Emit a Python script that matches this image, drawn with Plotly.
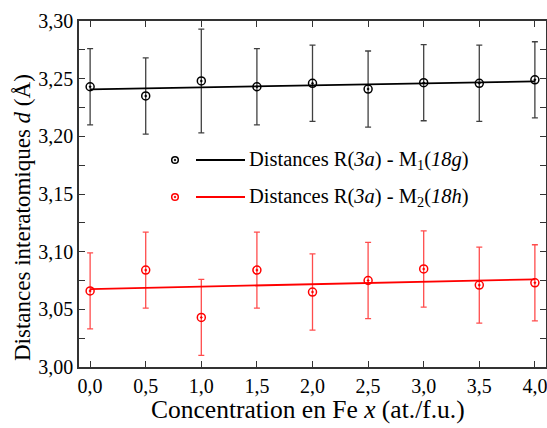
import numpy as np
import plotly.graph_objects as go

# Data
conc_x = [0.0, 0.5, 1.0, 1.5, 2.0, 2.5, 3.0, 3.5, 4.0]
d_m1 = [3.243, 3.235, 3.248, 3.243, 3.246, 3.241, 3.2465, 3.246, 3.249]
err_m1 = [0.033, 0.033, 0.045, 0.033, 0.033, 0.033, 0.033, 0.033, 0.033]
d_m2 = [3.066, 3.084, 3.043, 3.084, 3.065, 3.075, 3.085, 3.071, 3.073]
err_m2 = [0.033, 0.033, 0.033, 0.033, 0.033, 0.033, 0.033, 0.033, 0.033]
label_m1 = "Distances R(<i>3a</i>) - M<sub>1</sub>(<i>18g</i>)"
label_m2 = "Distances R(<i>3a</i>) - M<sub>2</sub>(<i>18h</i>)"
x_title = "Concentration en Fe <i>x</i> (at./f.u.)"
y_title = "Distances interatomiques <i>d</i> (Å)"
x_ticks = [0.0, 0.5, 1.0, 1.5, 2.0, 2.5, 3.0, 3.5, 4.0]
y_ticks = [3.00, 3.05, 3.10, 3.15, 3.20, 3.25, 3.30]

FONT = "Liberation Serif"
fig = go.Figure()

series = [
    (d_m1, err_m1, "black", "rgba(0,0,0,0.75)", label_m1),
    (d_m2, err_m2, "red", "rgba(255,0,0,0.7)", label_m2),
]
xa = np.array(conc_x)
for ys, es, col, ecol, name in series:
    slope, icpt = np.polyfit(xa, np.array(ys), 1)
    xf = np.array([xa.min(), xa.max()])
    fig.add_trace(go.Scatter(x=xf, y=slope * xf + icpt, mode="lines",
                             line=dict(color=col, width=1.8), showlegend=False,
                             hoverinfo="skip"))
    fig.add_trace(go.Scatter(
        x=conc_x, y=ys, mode="markers", name=name, showlegend=False,
        marker=dict(symbol="circle-open-dot", size=8, color=col,
                    line=dict(width=1.5, color=col)),
        error_y=dict(type="data", array=es, visible=True, color=ecol,
                     thickness=1.3, width=3)))

# Figure geometry (body margin removed by post_script)
W, H = 547, 428
ML, MR, MT, MB = 79, 1, 21, 61
x0, x1 = ML, W - MR
y0, y1 = H - MB, MT
OFF = 0
def px(x):
    return (x - OFF - x0) / (x1 - x0)
def py(y):
    return (y0 - (y - OFF)) / (y0 - y1)

# Legend drawn manually (Origin style: marker, gap, line, text)
for ypix, col, name in [(160, "black", label_m1), (197, "red", label_m2)]:
    fig.add_shape(type="circle", xref="paper", yref="paper",
                  xsizemode="pixel", ysizemode="pixel",
                  xanchor=px(175), yanchor=py(ypix),
                  x0=-3.3, x1=3.3, y0=-3.3, y1=3.3,
                  line=dict(color=col, width=1.5))
    fig.add_shape(type="circle", xref="paper", yref="paper",
                  xsizemode="pixel", ysizemode="pixel",
                  xanchor=px(175), yanchor=py(ypix),
                  x0=-0.8, x1=0.8, y0=-0.8, y1=0.8,
                  line=dict(color=col, width=1), fillcolor=col)
    fig.add_shape(type="line", xref="paper", yref="paper",
                  x0=px(196), x1=px(245), y0=py(ypix), y1=py(ypix),
                  line=dict(color=col, width=1.8))
    fig.add_annotation(xref="paper", yref="paper", x=px(247), y=py(ypix),
                       text=name, showarrow=False, xanchor="left", yanchor="middle",
                       font=dict(family=FONT, size=20.5, color="black"))

# Axis titles
fig.add_annotation(xref="paper", yref="paper", x=px(308), y=py(409),
                   text=x_title, showarrow=False, xanchor="center", yanchor="middle",
                   font=dict(family=FONT, size=25.5, color="black"))
fig.add_annotation(xref="paper", yref="paper", x=px(22), y=py(218),
                   text=y_title, showarrow=False, xanchor="center", yanchor="middle",
                   textangle=-90, font=dict(family=FONT, size=23, color="black"))

axis_common = dict(showline=True, mirror="ticks", linecolor="#333333", linewidth=1.5,
                   ticks="inside", ticklen=6, tickwidth=1.2, tickcolor="#333333",
                   showgrid=False, zeroline=False, automargin=False,
                   tickfont=dict(family=FONT, size=20, color="black"))

fig.update_layout(
    width=W, height=H,
    margin=dict(l=ML, r=MR, t=MT, b=MB),
    paper_bgcolor="white", plot_bgcolor="white",
    separators=", ",
    showlegend=False,
    xaxis=dict(range=[-0.1, 4.1], tickvals=x_ticks, tickformat=".1f",
               ticklabeloverflow="allow",
               **axis_common),
    yaxis=dict(range=[3.0, 3.3], tickvals=y_ticks, tickformat=".2f",
               minor=dict(ticks="inside", ticklen=6, tickwidth=1.2, tickcolor="#333333",
                          dtick=0.025, showgrid=False),
               **axis_common),
)

fig.write_html("out.html",
               config={"displayModeBar": False},
               post_script="document.body.style.margin='0';document.body.style.overflow='hidden';")
